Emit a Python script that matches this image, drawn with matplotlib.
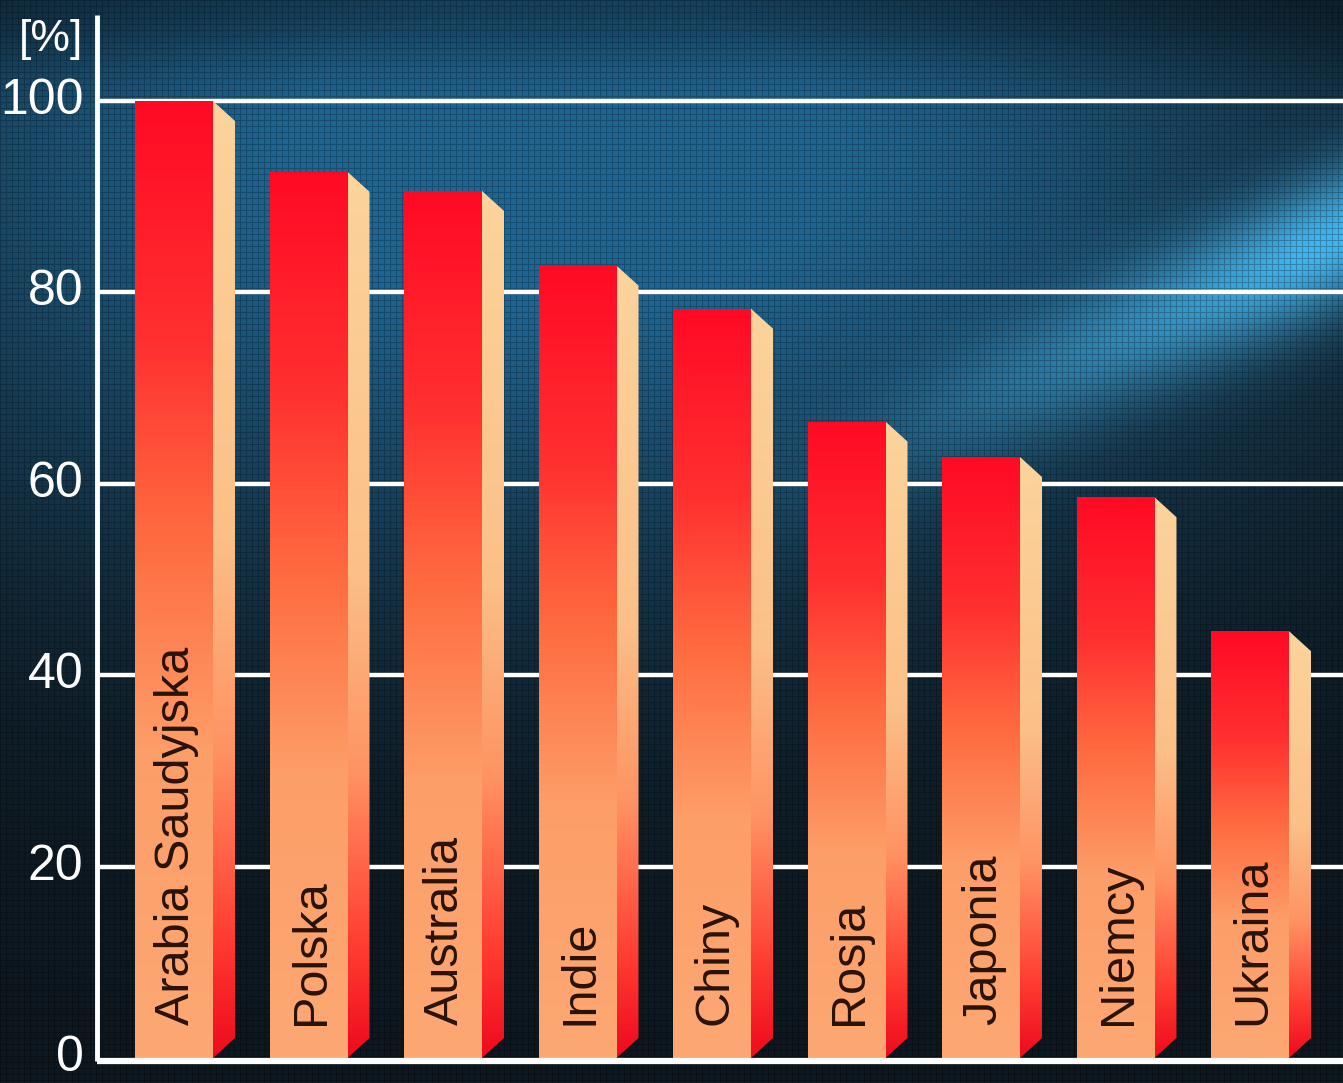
import numpy as np
import matplotlib
matplotlib.use('Agg')
import matplotlib.pyplot as plt
from matplotlib.colors import LinearSegmentedColormap
from matplotlib.patches import Polygon
from matplotlib import font_manager

# dane
countries = ['Arabia Saudyjska', 'Polska', 'Australia', 'Indie', 'Chiny',
             'Rosja', 'Japonia', 'Niemcy', 'Ukraina']
values = [100, 92.6, 90.6, 82.8, 78.3, 66.5, 62.8, 58.6, 44.6]
yticks = [0, 20, 40, 60, 80, 100]
unit_label = '[%]'

W, H = 1343, 1083
DPI = 100

# wybór fontu wąskiego (jeśli jest)
names = {f.name for f in font_manager.fontManager.ttflist}
narrow = 'Liberation Sans Narrow' if 'Liberation Sans Narrow' in names else 'Liberation Sans'

fig = plt.figure(figsize=(W / DPI, H / DPI), dpi=DPI)
ax = fig.add_axes([0, 0, 1, 1])

# mapowanie pikseli: x -> środek przedniej ściany słupka, y -> wartość
px_per_bar = 134.5
px_per_unit = (1058 - 101) / 100.0
x0_px = 174.0
xlim = (-x0_px / px_per_bar, (W - x0_px) / px_per_bar)
ylim = (-(H - 1058) / px_per_unit, 100 + 101 / px_per_unit)
ax.set_xlim(*xlim)
ax.set_ylim(*ylim)

# tło: gradient niebieski + smuga + drobna siatka
xx, yy = np.meshgrid(np.arange(W), np.arange(H))
u = xx / W
v = yy / H
dark = np.array([0.05, 0.09, 0.12])
blue = np.array([0.12, 0.40, 0.58])
w = np.exp(-((u - 0.42) / 0.55) ** 2 - ((v - 0.14) / 0.38) ** 2)
w = np.clip(w * 1.15, 0, 1)
img = dark[None, None, :] * (1 - w[..., None]) + blue[None, None, :] * w[..., None]
# ciemniejsza górna krawędź
img *= (1 - 0.35 * np.exp(-(v / 0.06) ** 2))[..., None]
# jasna smuga po prawej
line_y = 235 + (1343 - xx) * 0.45
d = (yy - line_y) / 70.0
ramp = np.clip((xx - 700) / 600.0, 0, 1) ** 1.4
streak = np.exp(-d ** 2) * ramp
bright = np.array([0.28, 0.76, 1.0])
img = img * (1 - streak[..., None] * 0.9) + bright[None, None, :] * streak[..., None] * 0.9
# drobna siatka
grid_mask = (xx % 6 == 0) | (yy % 6 == 0)
img[grid_mask] *= 0.75
ax.imshow(img, extent=(xlim[0], xlim[1], ylim[0], ylim[1]), origin='upper',
          aspect='auto', interpolation='nearest', zorder=0)

# osie i linie siatki
axis_x = (97 - x0_px) / px_per_bar
ax.hlines([t for t in yticks if t > 0], axis_x, xlim[1], colors='white',
          linewidth=3.2, zorder=1)
ax.hlines(-0.3, axis_x, xlim[1], colors='white', linewidth=4.5, zorder=3)
ax.vlines(axis_x, -0.3, 100 + (101 - 15) / px_per_unit, colors='white',
          linewidth=3.5, zorder=3)

# słupki 3D z gradientem
front_cmap = LinearSegmentedColormap.from_list('front', [
    (0.0, '#fca873'), (0.32, '#fd9e68'), (0.55, '#ff6a40'),
    (0.75, '#ff3030'), (1.0, '#ff0a24')])
side_cmap = LinearSegmentedColormap.from_list('side', [
    (0.0, '#ee0a1e'), (0.12, '#ff3a30'), (0.32, '#ff9262'),
    (0.55, '#fbc088'), (1.0, '#fbd49c')])
grad = np.linspace(0, 1, 256).reshape(-1, 1)

fw = 78 / px_per_bar
depth = 22 / px_per_bar
dy = 20 / px_per_unit

for i, (name, val) in enumerate(zip(countries, values)):
    xl = i - fw / 2
    xr = i + fw / 2
    # przednia ściana
    front = Polygon([(xl, 0), (xr, 0), (xr, val), (xl, val)], closed=True,
                    facecolor='none', edgecolor='none')
    ax.add_patch(front)
    im = ax.imshow(grad, cmap=front_cmap, origin='lower', aspect='auto',
                   extent=(xl, xr, 0, val), zorder=2)
    im.set_clip_path(front)
    # boczna ściana
    side = Polygon([(xr, 0), (xr + depth, dy), (xr + depth, val - dy), (xr, val)],
                   closed=True, facecolor='none', edgecolor='none')
    ax.add_patch(side)
    im2 = ax.imshow(grad, cmap=side_cmap, origin='lower', aspect='auto',
                    extent=(xr, xr + depth, 0, val), zorder=2)
    im2.set_clip_path(side)
    # podpis
    ax.text(i + 0.02, 3.4, name, rotation=90, ha='center', va='bottom',
            fontsize=35, color='#2a1208', family='Liberation Sans', zorder=4)

# etykiety osi Y
for t in yticks:
    ax.text(axis_x - 0.1, t, str(t), ha='right', va='center', fontsize=36,
            color='white', family=narrow, zorder=4)
ax.text(axis_x - 0.1, 100 + 62 / px_per_unit, unit_label, ha='right', va='center',
        fontsize=32, color='white', family=narrow, zorder=4)

ax.set_axis_off()
fig.savefig('out.png', dpi=DPI)
